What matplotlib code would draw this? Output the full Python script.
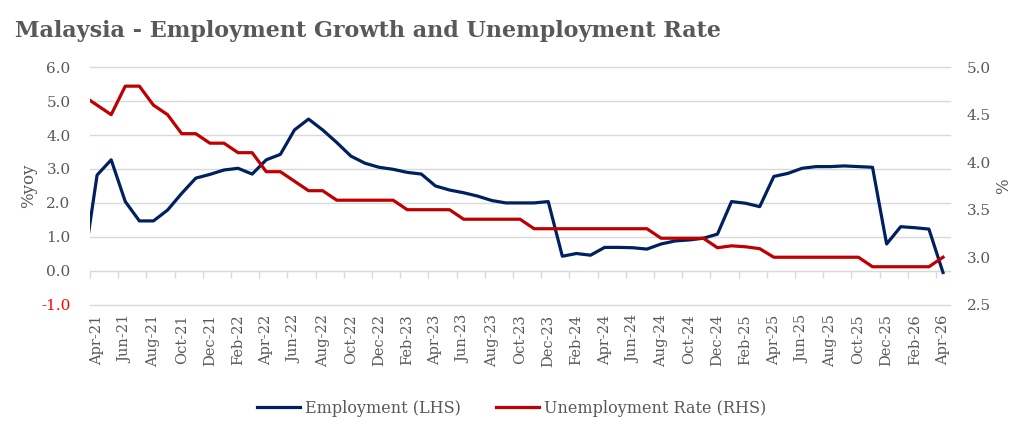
import matplotlib.pyplot as plt
import numpy as np

# monthly data, Mar-21 .. Apr-26 (Mar-21 is only half inside the axis)
months = ['Mar-21', 'Apr-21', 'May-21', 'Jun-21', 'Jul-21', 'Aug-21', 'Sep-21', 'Oct-21', 'Nov-21', 'Dec-21',
          'Jan-22', 'Feb-22', 'Mar-22', 'Apr-22', 'May-22', 'Jun-22', 'Jul-22', 'Aug-22', 'Sep-22', 'Oct-22',
          'Nov-22', 'Dec-22', 'Jan-23', 'Feb-23', 'Mar-23', 'Apr-23', 'May-23', 'Jun-23', 'Jul-23', 'Aug-23',
          'Sep-23', 'Oct-23', 'Nov-23', 'Dec-23', 'Jan-24', 'Feb-24', 'Mar-24', 'Apr-24', 'May-24', 'Jun-24',
          'Jul-24', 'Aug-24', 'Sep-24', 'Oct-24', 'Nov-24', 'Dec-24', 'Jan-25', 'Feb-25', 'Mar-25', 'Apr-25',
          'May-25', 'Jun-25', 'Jul-25', 'Aug-25', 'Sep-25', 'Oct-25', 'Nov-25', 'Dec-25', 'Jan-26', 'Feb-26',
          'Mar-26', 'Apr-26']

employment = [0.0, 2.82, 3.27, 2.04, 1.47, 1.47, 1.79, 2.28, 2.73, 2.84, 2.97,
              3.02, 2.85, 3.27, 3.43, 4.15, 4.47, 4.15, 3.78, 3.38, 3.17,
              3.05, 2.99, 2.90, 2.85, 2.50, 2.38, 2.30, 2.20, 2.07, 2.0,
              2.0, 2.0, 2.04, 0.43, 0.51, 0.46, 0.69, 0.69, 0.68, 0.64,
              0.79, 0.88, 0.91, 0.96, 1.08, 2.04, 1.99, 1.89, 2.78, 2.87,
              3.02, 3.07, 3.07, 3.09, 3.07, 3.05, 0.79, 1.30, 1.27, 1.23,
              -0.05]

unemployment = [4.7, 4.6, 4.5, 4.8, 4.8, 4.6, 4.5, 4.3, 4.3, 4.2, 4.2,
                4.1, 4.1, 3.9, 3.9, 3.8, 3.7, 3.7, 3.6, 3.6, 3.6,
                3.6, 3.6, 3.5, 3.5, 3.5, 3.5, 3.4, 3.4, 3.4, 3.4,
                3.4, 3.3, 3.3, 3.3, 3.3, 3.3, 3.3, 3.3, 3.3, 3.3,
                3.2, 3.2, 3.2, 3.2, 3.1, 3.12, 3.11, 3.09, 3.0, 3.0,
                3.0, 3.0, 3.0, 3.0, 3.0, 2.9, 2.9, 2.9, 2.9, 2.9,
                3.0]

x = np.arange(len(months)) - 1  # Apr-21 at 0
label_idx = x[1::2]
labels = months[1::2]

grey = '#595959'
navy = '#002060'
red = '#C00000'
plt.rcParams['font.family'] = ['DejaVu Serif']

fig = plt.figure(figsize=(10.23, 4.36), dpi=100)
ax1 = fig.add_axes([0.088, 0.301, 0.8407, 0.545])
ax2 = ax1.twinx()

ax1.plot(x, employment, color=navy, lw=2.3, label='Employment (LHS)', solid_joinstyle='round')
ax2.plot(x, unemployment, color=red, lw=2.3, label='Unemployment Rate (RHS)', solid_joinstyle='round')

ax1.set_xlim(-0.5, 60.5)
ax1.set_ylim(-1, 6)
ax2.set_ylim(2.5, 5.0)
ax1.set_yticks(np.arange(-1, 6.1, 1))
ax1.set_yticklabels([f'{v:.1f}' for v in np.arange(-1, 6.1, 1)])
ax2.set_yticks(np.arange(2.5, 5.01, 0.5))
ax2.set_yticklabels([f'{v:.1f}' for v in np.arange(2.5, 5.01, 0.5)])

ax1.grid(axis='y', color='#D9D9D9', lw=1)
ax1.set_axisbelow(True)
for g in ax1.get_ygridlines():
    g.set_clip_on(False)
for a in (ax1, ax2):
    for s in a.spines.values():
        s.set_visible(False)

ax1.tick_params(axis='y', length=0, pad=14, labelsize=11, labelcolor=grey)
ax2.tick_params(axis='y', length=0, pad=12, labelsize=11, labelcolor=grey)
ax1.get_yticklabels()[0].set_color('#FF0000')
ax1.set_xticks(label_idx)
ax1.set_xticklabels(labels, rotation=90)
ax1.tick_params(axis='x', length=0, pad=7, labelsize=10.5, labelcolor=grey)

# small tick marks hanging from the zero line
sec = ax1.secondary_xaxis(1 / 7)
sec.set_xticks(np.arange(-0.5, 60.6, 2))
sec.set_xticklabels([])
sec.tick_params(axis='x', direction='out', length=5, color='#D9D9D9', width=1)
sec.spines['bottom'].set_color('#D9D9D9')

ax1.set_ylabel('%yoy', color=grey, fontsize=12, labelpad=3)
ax2.set_ylabel('%', color=grey, fontsize=12, labelpad=3)

fig.text(15 / 1023, 1 - 31 / 436, 'Malaysia - Employment Growth and Unemployment Rate',
         fontsize=16, fontweight='bold', color=grey, va='center')

h1, l1 = ax1.get_legend_handles_labels()
h2, l2 = ax2.get_legend_handles_labels()
leg = fig.legend(h1 + h2, l1 + l2, loc='center', bbox_to_anchor=(0.5, 1 - 408 / 436), ncol=2,
                 frameon=False, fontsize=11.5, handlelength=2.7, handletextpad=0.3, columnspacing=2.2)
for t in leg.get_texts():
    t.set_color(grey)

fig.savefig('out.png', dpi=100)
